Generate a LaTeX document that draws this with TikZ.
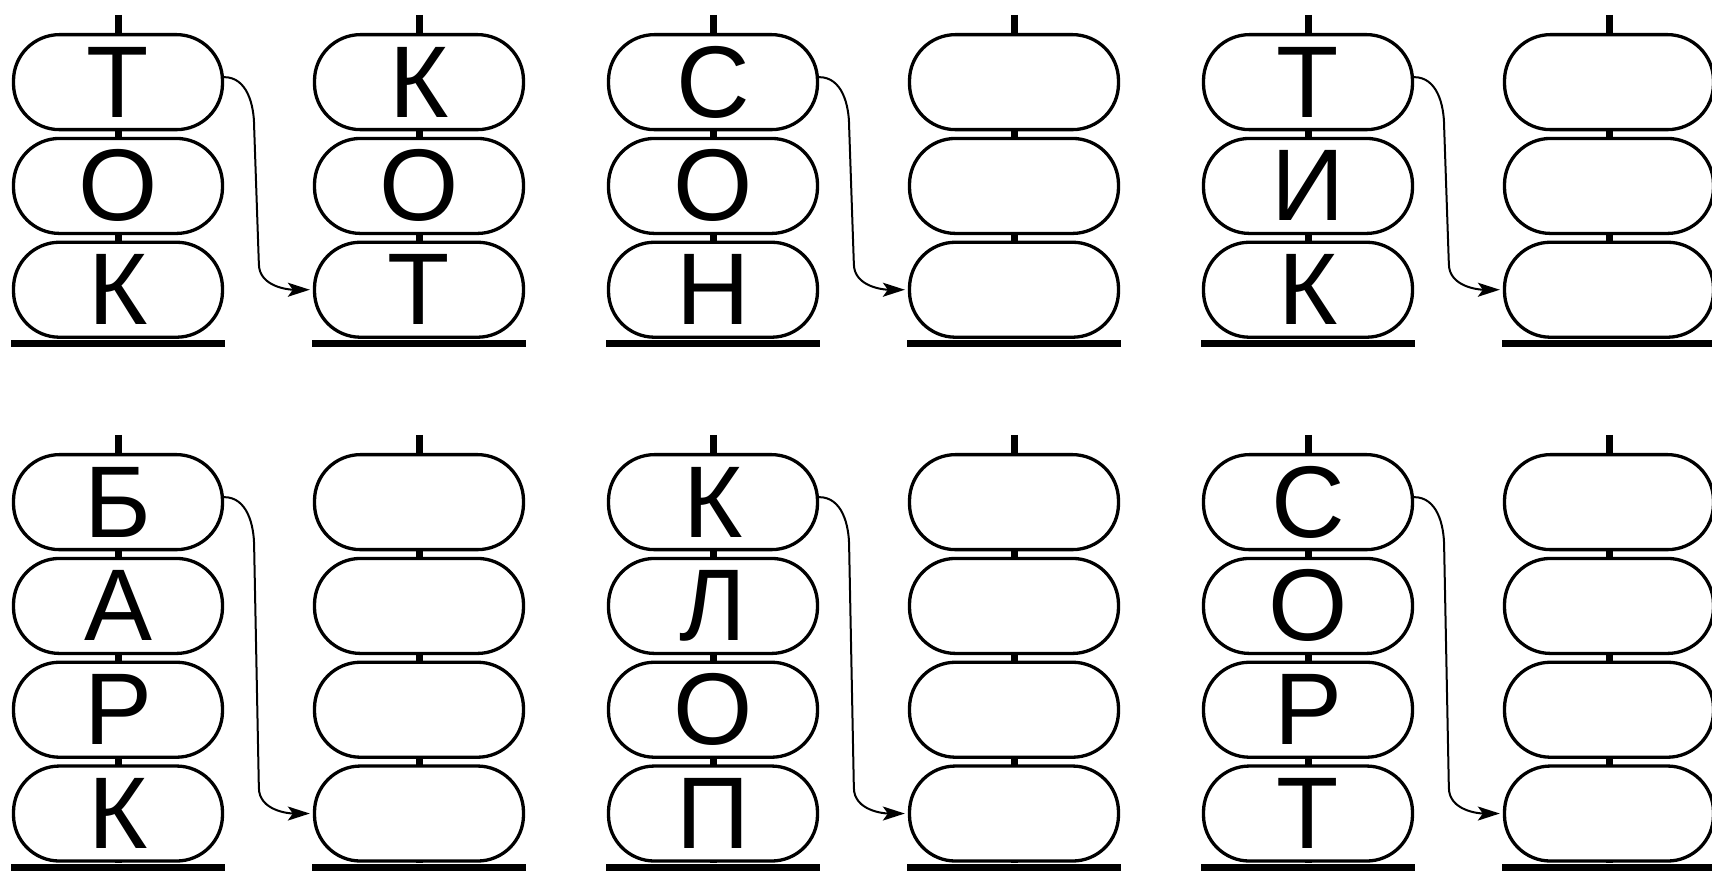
\documentclass[tikz,border=0pt]{standalone}
\usepackage{fontspec}
\newfontfamily\beadfont{Liberation Sans}
\usepackage{tikz}
\usetikzlibrary{
  arrows.meta,
  positioning,
  backgrounds
}
\tikzset{
  bead/.style={
    draw, fill=white, line width=0.33mm, rounded corners=4.6mm,
    minimum width=20.9mm, minimum height=9.5mm, inner sep=0pt,
    text height=7mm, text depth=0pt,
    font=\beadfont\fontsize{29pt}{29pt}\selectfont
  },
  rod/.style={line width=0.7mm},
  shelf/.style={line width=0.7mm},
  hop/.style={-{Stealth[length=2.2mm, width=1.4mm, inset=0.5mm]}, line width=0.2mm, shorten >=0.3mm}
}
% #1 name, #2 centre x, #3 top y, #4 letters from top to bottom
\newcommand\wordstack[4]{%
  \coordinate (#1-top) at (#2,#3);
  \foreach \ch [count=\i, remember=\i as \j (initially 0)] in {#4}{
    \ifnum\i=1
      \node[bead, below=0pt of #1-top] (#1-\i) {\ch};
    \else
      \node[bead, below=0.55mm of #1-\j] (#1-\i) {\ch};
    \fi
    \coordinate (#1-base) at (#1-\i.south);
  }
  \begin{scope}[on background layer]
    \draw[rod] ([yshift=1.8mm]#1-top) -- (#1-base);
  \end{scope}
  \draw[shelf] ([xshift=-10.7mm, yshift=-0.45mm]#1-base) -- ([xshift=10.7mm, yshift=-0.45mm]#1-base);
}

\begin{document}
\begin{tikzpicture}[x=0.1mm, y=0.1mm]
  \useasboundingbox (0,0) rectangle (1712,874);

  % upper row
  \wordstack{a}{118}{841}{Т,О,К}
  \wordstack{b}{419}{841}{К,О,Т}
  \wordstack{c}{713}{841}{С,О,Н}
  \wordstack{d}{1014}{841}{{},{},{}}
  \wordstack{e}{1308}{841}{Т,И,К}
  \wordstack{f}{1609}{841}{{},{},{}}

  % lower row
  \wordstack{g}{118}{421}{Б,А,Р,К}
  \wordstack{h}{419}{421}{{},{},{},{}}
  \wordstack{i}{713}{421}{К,Л,О,П}
  \wordstack{j}{1014}{421}{{},{},{},{}}
  \wordstack{k}{1308}{421}{С,О,Р,Т}
  \wordstack{l}{1609}{421}{{},{},{},{}}

  \foreach \src/\dst in {a-1/b-3, c-1/d-3, e-1/f-3, g-1/h-4, i-1/j-4, k-1/l-4}
    \draw[hop] ([yshift=0.5mm]\src.east) to[out=0, in=90] ++(30,-50)
      -- ([xshift=-5.4mm, yshift=2.6mm]\dst.west) to[out=-90, in=180] (\dst.west);
\end{tikzpicture}
\end{document}
